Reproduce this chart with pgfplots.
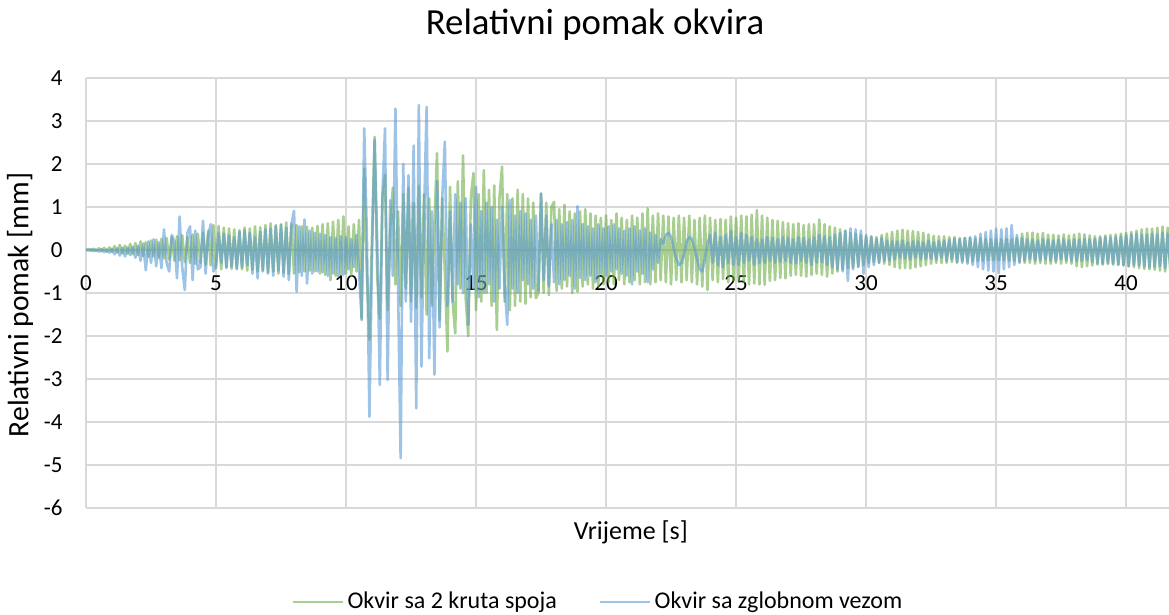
\documentclass[border=0pt]{standalone}
\usepackage{fontspec}
\setmainfont{Carlito}
\usepackage{pgfplots}
\pgfplotsset{compat=1.18}
\usepackage{pgfplotstable}
\definecolor{gser}{HTML}{70AD47}
\definecolor{bser}{HTML}{5B9BD5}
\definecolor{gridc}{HTML}{D9D9D9}
\pgfplotstableread{
t g b
0.0 0 0
0.1 0.02 -0.01
0.2 -0.02 0.02
0.3 0.03 -0.03
0.4 -0.02 0.01
0.5 0.04 -0.04
0.6 -0.03 0.02
0.7 0.05 -0.05
0.8 -0.04 0.01
0.9 0.06 -0.06
1.0 -0.05 0.03
1.1 0.09 -0.10
1.2 -0.06 0.04
1.3 0.12 -0.13
1.4 -0.08 0.05
1.5 0.10 -0.15
1.6 -0.09 0.06
1.7 0.14 -0.12
1.8 -0.10 0.08
1.9 0.16 -0.18
2.0 -0.12 0.10
2.1 0.20 -0.25
2.2 -0.14 0.15
2.3 0.18 -0.47
2.4 -0.16 0.20
2.5 0.22 -0.30
2.6 -0.15 0.25
2.7 0.24 -0.38
2.8 -0.18 0.18
2.9 0.26 -0.42
3.0 -0.20 0.48
3.1 0.28 -0.30
3.2 -0.22 -0.50
3.3 0.30 0.35
3.4 -0.25 0.20
3.5 0.32 -0.66
3.6 -0.24 0.78
3.7 0.34 -0.40
3.8 -0.28 -0.93
3.9 0.30 0.40
4.0 -0.30 0.55
4.1 0.36 -0.70
4.2 -0.32 0.45
4.3 0.38 -0.45
4.4 -0.30 -0.40
4.5 0.40 0.68
4.6 -0.34 -0.55
4.7 0.45 0.35
4.8 -0.36 0.60
4.9 0.58 -0.50
5.0 -0.42 -0.35
5.1 0.56 0.40
5.2 -0.45 -0.30
5.3 0.52 0.38
5.4 -0.40 -0.42
5.5 0.50 0.35
5.6 -0.44 -0.38
5.7 0.48 0.30
5.8 -0.42 -0.45
5.9 0.46 0.42
6.0 -0.45 -0.40
6.1 0.52 0.45
6.2 -0.48 -0.35
6.3 0.50 0.40
6.4 -0.46 -0.55
6.5 0.55 0.30
6.6 -0.50 -0.66
6.7 0.53 0.42
6.8 -0.47 -0.50
6.9 0.58 0.48
7.0 -0.52 -0.55
7.1 0.62 0.50
7.2 -0.50 -0.60
7.3 0.58 0.55
7.4 -0.55 -0.48
7.5 0.60 0.58
7.6 -0.53 -0.62
7.7 0.64 0.52
7.8 -0.56 -0.70
7.9 0.60 0.60
8.0 -0.55 0.91
8.1 0.58 -0.97
8.2 -0.52 0.55
8.3 0.55 -0.60
8.4 -0.50 0.71
8.5 0.54 -0.78
8.6 -0.48 0.45
8.7 0.52 -0.55
8.8 -0.50 0.40
8.9 0.56 -0.50
9.0 -0.55 0.38
9.1 0.60 -0.52
9.2 -0.58 0.35
9.3 0.62 -0.60
9.4 -0.70 0.30
9.5 0.66 -0.55
9.6 -0.60 0.28
9.7 0.70 -0.62
9.8 -0.58 0.32
9.9 0.78 -0.58
10.0 -0.55 0.30
10.1 0.55 -0.45
10.2 -0.60 0.25
10.3 0.60 -0.40
10.4 -0.50 0.35
10.5 0.70 -0.50
10.6 -1.63 -1.60
10.7 1.90 2.83
10.8 -0.50 0.40
10.9 -2.09 -3.88
11.0 0.30 -0.10
11.1 2.63 2.56
11.2 -0.60 0.20
11.3 -1.60 -3.14
11.4 1.20 1.28
11.5 1.75 2.83
11.6 -1.40 -3.02
11.7 0.50 1.16
11.8 1.45 -0.60
11.9 -0.80 3.29
12.0 0.90 -0.80
12.1 -1.30 -4.84
12.2 1.30 2.00
12.3 -0.90 -1.20
12.4 1.45 1.74
12.5 -1.20 -1.67
12.6 1.10 2.43
12.7 -1.35 -3.68
12.8 1.50 3.37
12.9 -1.10 -2.71
13.0 1.30 0.80
13.1 -1.50 3.33
13.2 1.20 -2.52
13.3 -1.30 0.90
13.4 0.60 -2.90
13.5 2.25 1.60
13.6 -1.63 -1.80
13.7 1.20 1.20
13.8 -0.50 2.52
13.9 -2.36 -1.30
14.0 1.47 0.90
14.1 -1.20 -1.20
14.2 -1.94 1.30
14.3 1.60 -0.80
14.4 -0.90 1.10
14.5 2.20 -1.00
14.6 -1.10 1.20
14.7 -2.00 -1.74
14.8 1.20 0.60
14.9 1.79 -0.90
15.0 -1.40 1.47
15.1 1.30 -1.10
15.2 -1.20 0.90
15.3 1.86 -1.00
15.4 -1.00 1.10
15.5 1.40 -0.80
15.6 -1.30 1.00
15.7 1.50 -1.20
15.8 -1.86 0.70
15.9 1.20 -0.90
16.0 1.94 1.00
16.1 -1.20 -0.80
16.2 1.30 -1.74
16.3 -1.40 1.16
16.4 1.20 -0.90
16.5 -1.30 0.80
16.6 1.40 -1.00
16.7 -1.20 0.90
16.8 1.30 -0.70
16.9 -1.25 0.85
17.0 1.20 -0.80
17.1 -1.10 0.70
17.2 1.10 -0.90
17.3 -1.12 0.80
17.4 -1.00 -0.95
17.5 1.30 1.32
17.6 -1.00 -0.70
17.7 1.10 0.80
17.8 -1.05 -0.85
17.9 1.00 0.60
18.0 1.12 -0.75
18.1 -0.95 0.70
18.2 0.95 -0.80
18.3 -0.90 0.60
18.4 1.05 -0.70
18.5 -0.85 0.65
18.6 0.90 -0.60
18.7 -1.00 0.70
18.8 0.85 -0.90
18.9 -0.97 1.02
19.0 0.90 -0.65
19.1 -0.85 0.60
19.2 0.95 -0.70
19.3 -0.80 0.55
19.4 0.85 -0.60
19.5 -0.90 0.50
19.6 0.80 -0.75
19.7 -0.85 0.60
19.8 0.75 -0.55
19.9 -0.80 0.50
20.0 0.80 -0.60
20.1 -0.75 0.55
20.2 0.70 -0.50
20.3 -0.80 0.60
20.4 0.85 -0.45
20.5 -0.70 0.50
20.6 0.75 -0.55
20.7 -0.80 0.45
20.8 0.70 -0.60
20.9 -0.75 0.50
21.0 0.80 -0.80
21.1 -0.70 0.55
21.2 0.75 -0.50
21.3 -0.80 0.45
21.4 0.85 -0.55
21.5 -0.75 0.50
21.6 0.97 -0.75
21.7 -0.80 0.40
21.8 0.80 -0.45
21.9 -0.75 0.35
22.0 0.85 -0.30
22.1 -0.70 0.25
22.2 0.80 0.15
22.3 -0.75 0.35
22.4 0.78 0.40
22.5 -0.80 0.30
22.6 0.75 0.05
22.7 -0.70 -0.20
22.8 0.80 -0.35
22.9 -0.75 -0.30
23.0 0.75 -0.10
23.1 -0.70 0.20
23.2 0.80 0.30
23.3 -0.75 0.25
23.4 0.70 0.05
23.5 -0.80 -0.20
23.6 0.75 -0.45
23.7 -0.85 -0.50
23.8 0.80 -0.20
23.9 -0.93 0.15
24.0 0.75 0.35
24.1 -0.70 -0.30
24.2 0.70 0.40
24.3 -0.75 -0.35
24.4 0.72 0.30
24.5 -0.68 -0.40
24.6 0.70 0.35
24.7 -0.75 -0.30
24.8 0.78 0.45
24.9 -0.70 -0.35
25.0 0.75 0.30
25.1 -0.72 -0.35
25.2 0.80 0.40
25.3 -0.75 -0.30
25.4 0.78 0.35
25.5 -0.80 -0.25
25.6 0.82 0.30
25.7 -0.78 -0.35
25.8 0.93 0.25
25.9 -0.80 -0.30
26.0 0.80 0.25
26.1 -0.81 -0.30
26.2 0.75 0.30
26.3 -0.72 -0.25
26.4 0.70 0.28
26.5 -0.70 -0.30
26.6 0.68 0.25
26.7 -0.65 -0.28
26.8 0.65 0.30
26.9 -0.66 -0.25
27.0 0.62 0.28
27.1 -0.60 -0.30
27.2 0.60 0.25
27.3 -0.58 -0.32
27.4 0.62 0.30
27.5 -0.60 -0.25
27.6 0.58 0.28
27.7 -0.62 -0.30
27.8 0.60 0.25
27.9 -0.58 -0.35
28.0 0.60 0.30
28.1 -0.55 -0.30
28.2 0.71 0.35
28.3 -0.58 -0.28
28.4 0.60 0.32
28.5 -0.62 -0.35
28.6 0.55 0.30
28.7 -0.55 -0.40
28.8 0.52 0.35
28.9 -0.50 -0.45
29.0 0.48 0.40
29.1 -0.45 -0.50
29.2 0.45 0.45
29.3 -0.42 -0.72
29.4 0.40 0.50
29.5 -0.40 -0.45
29.6 0.38 0.48
29.7 -0.38 -0.40
29.8 0.35 0.45
29.9 -0.35 -0.55
30.0 0.30 0.35
30.1 -0.30 -0.40
30.2 0.32 0.30
30.3 -0.28 -0.35
30.4 0.30 0.25
30.5 -0.30 -0.30
30.6 0.35 0.28
30.7 -0.32 -0.25
30.8 0.38 0.22
30.9 -0.35 -0.25
31.0 0.42 0.20
31.1 -0.40 -0.22
31.2 0.45 0.20
31.3 -0.43 -0.18
31.4 0.47 0.22
31.5 -0.42 -0.20
31.6 0.45 0.18
31.7 -0.43 -0.22
31.8 0.44 0.20
31.9 -0.40 -0.18
32.0 0.42 0.20
32.1 -0.38 -0.22
32.2 0.40 0.18
32.3 -0.35 -0.20
32.4 0.36 0.22
32.5 -0.32 -0.20
32.6 0.33 0.18
32.7 -0.30 -0.22
32.8 0.32 0.20
32.9 -0.30 -0.18
33.0 0.32 0.22
33.1 -0.30 -0.25
33.2 0.30 0.24
33.3 -0.28 -0.22
33.4 0.30 0.26
33.5 -0.30 -0.28
33.6 0.28 0.25
33.7 -0.26 -0.30
33.8 0.28 0.28
33.9 -0.27 -0.32
34.0 0.28 0.30
34.1 -0.27 -0.35
34.2 0.26 0.32
34.3 -0.25 -0.40
34.4 0.27 0.38
34.5 -0.25 -0.45
34.6 0.26 0.42
34.7 -0.24 -0.48
34.8 0.25 0.45
34.9 -0.24 -0.50
35.0 0.25 0.50
35.1 -0.24 -0.54
35.2 0.25 0.48
35.3 -0.24 -0.45
35.4 0.26 0.50
35.5 -0.25 -0.40
35.6 0.25 0.58
35.7 -0.26 -0.35
35.8 0.28 0.35
35.9 -0.27 -0.30
36.0 0.38 0.28
36.1 -0.30 -0.25
36.2 0.40 0.25
36.3 -0.30 -0.22
36.4 0.40 0.24
36.5 -0.32 -0.25
36.6 0.38 0.22
36.7 -0.30 -0.24
36.8 0.40 0.25
36.9 -0.32 -0.22
37.0 0.36 0.24
37.1 -0.32 -0.25
37.2 0.35 0.22
37.3 -0.30 -0.26
37.4 0.34 0.24
37.5 -0.32 -0.22
37.6 0.36 0.25
37.7 -0.30 -0.24
37.8 0.34 0.22
37.9 -0.32 -0.25
38.0 0.36 0.25
38.1 -0.38 -0.26
38.2 0.38 0.24
38.3 -0.40 -0.25
38.4 0.36 0.26
38.5 -0.38 -0.24
38.6 0.34 0.25
38.7 -0.36 -0.28
38.8 0.32 0.26
38.9 -0.34 -0.30
39.0 0.32 0.28
39.1 -0.34 -0.32
39.2 0.34 0.30
39.3 -0.33 -0.30
39.4 0.35 0.28
39.5 -0.34 -0.32
39.6 0.36 0.30
39.7 -0.35 -0.34
39.8 0.38 0.32
39.9 -0.36 -0.35
40.0 0.40 0.34
40.1 -0.38 -0.38
40.2 0.42 0.36
40.3 -0.40 -0.35
40.4 0.45 0.38
40.5 -0.42 -0.36
40.6 0.48 0.35
40.7 -0.44 -0.38
40.8 0.50 0.36
40.9 -0.45 -0.40
41.0 0.50 0.38
41.1 -0.46 -0.40
41.2 0.52 0.36
41.3 -0.48 -0.38
41.4 0.54 0.40
41.5 -0.50 -0.42
41.6 0.52 0.38
41.7 -0.50 -0.40
}\data
\begin{document}
\begin{tikzpicture}
\useasboundingbox (-43pt,-53.5pt) rectangle (541.5pt,254pt);
\begin{axis}[
  at={(0,0)}, anchor=south west,
  scale only axis, width=541.5pt, height=215pt,
  xmin=0, xmax=41.65, ymin=-6, ymax=4,
  xtick={0,5,...,40}, xticklabels={0,5,10,15,20,25,30,35,40},
  ytick={-6,-5,...,4}, yticklabels={-6,-5,-4,-3,-2,-1,0,1,2,3,4},
  grid=major, major grid style={gridc, line width=0.75pt},
  axis line style={draw=none}, major tick length=0pt,
  xticklabel style={font=\fontsize{11.5}{13}\selectfont, anchor=north, inner sep=0pt, yshift=116.5pt},
  yticklabel style={font=\fontsize{11.5}{13}\selectfont, anchor=east, inner sep=0pt, xshift=-11.5pt},
  xlabel={Vrijeme [s]},
  xlabel style={at={(axis description cs:0.503,-0.0558)}, anchor=center, font=\fontsize{13}{15}\selectfont},
  ylabel={Relativni pomak [mm]},
  ylabel style={at={(axis description cs:-0.0609,0.472)}, anchor=center, font=\fontsize{14.8}{17}\selectfont},
  legend columns=2,
  legend style={draw=none, fill=none, at={(axis description cs:0.4737,-0.2186)}, anchor=center,
    font=\fontsize{12}{14}\selectfont,
    /tikz/every even column/.append style={column sep=19pt}},
  legend image code/.code={\draw[#1, line width=0.9pt] (0pt,0pt) -- (25pt,0pt);},
  clip=true,
]
\addplot[gser, opacity=0.6, line width=1.3pt, line join=round] table[x=t, y=g] {\data};
\addlegendentry{Okvir sa 2 kruta spoja}
\addplot[bser, opacity=0.6, line width=1.3pt, line join=round] table[x=t, y=b] {\data};
\addlegendentry{Okvir sa zglobnom vezom}
\end{axis}
\node[font=\fontsize{18.4}{22}\selectfont] at (254.5pt,241.5pt) {Relativni pomak okvira};
\end{tikzpicture}
\end{document}
